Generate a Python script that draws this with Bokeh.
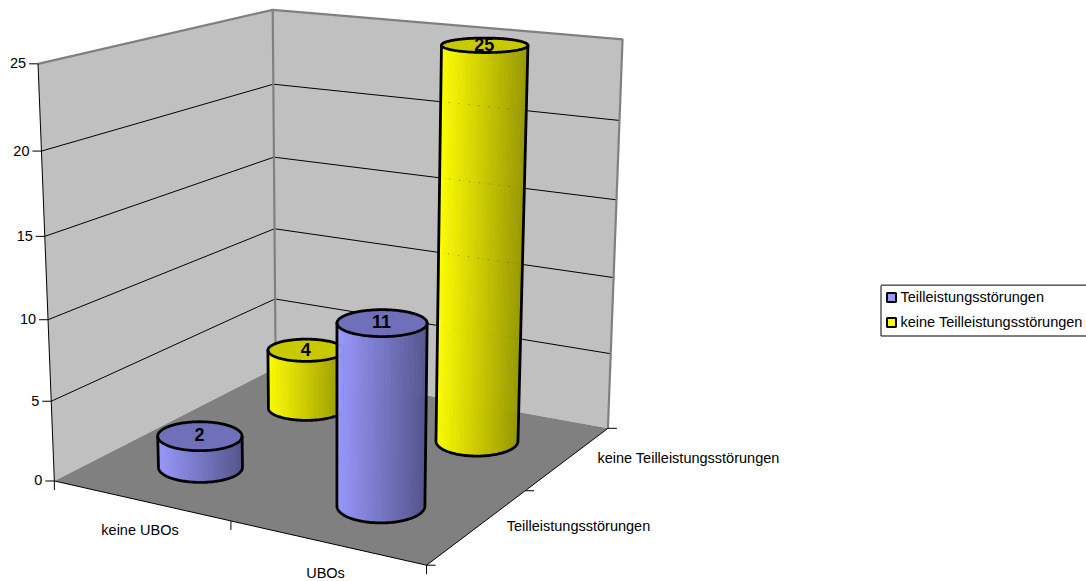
import numpy as np
from bokeh.core.properties import value
from bokeh.embed import file_html
from bokeh.models import Range1d
from bokeh.plotting import figure
from bokeh.resources import INLINE

# Chart content
categories = ["keine UBOs", "UBOs"]
series_names = ["Teilleistungsstörungen", "keine Teilleistungsstörungen"]
values_teil = [2, 11]
values_keine = [4, 25]
z_ticks = [0, 5, 10, 15, 20, 25]

FONT = "Liberation Sans"
LABEL_SIZE = "14.5px"
WALL, FLOOR, FRAME = "#c0c0c0", "#808080", "#808080"
RAMPS = {
    0: {"light": (153, 153, 255), "dark": (84, 84, 140), "top": "#7070ba"},
    1: {"light": (255, 255, 0), "dark": (150, 150, 0), "top": "#c9c900"},
}

# Camera calibration: box coordinates (category, series, value) to page pixels.
# Category and series run 0..2, value runs 0..25.
calib = [
    ((0, 0, 0), (53, 480)), ((0, 0, 5), (50, 400)), ((0, 0, 10), (48, 319)),
    ((0, 0, 15), (45, 236)), ((0, 0, 20), (41, 151)), ((0, 0, 25), (37, 64)),
    ((0, 2, 0), (275, 368)), ((0, 2, 5), (275, 299)), ((0, 2, 10), (274, 228)),
    ((0, 2, 15), (274, 156)), ((0, 2, 20), (273, 84)), ((0, 2, 25), (272, 9)),
    ((2, 2, 0), (608, 427)), ((2, 2, 5), (610, 353)), ((2, 2, 10), (612, 279)),
    ((2, 2, 15), (616, 199)), ((2, 2, 20), (618, 120)), ((2, 2, 25), (623, 38)),
    ((2, 0, 0), (427, 565)),
]
rows, rhs = [], []
for (a, b, c), (sx, sy) in calib:
    rows.append([a, b, c, 1, 0, 0, 0, 0, -sx * a, -sx * b, -sx * c])
    rows.append([0, 0, 0, 0, a, b, c, 1, -sy * a, -sy * b, -sy * c])
    rhs += [sx, sy]
cam = np.linalg.lstsq(np.array(rows, float), np.array(rhs, float), rcond=None)[0]


def proj(a, b, c):
    a, b, c = np.asarray(a, float), np.asarray(b, float), np.asarray(c, float)
    w = cam[8] * a + cam[9] * b + cam[10] * c + 1
    return (cam[0] * a + cam[1] * b + cam[2] * c + cam[3]) / w, (cam[4] * a + cam[5] * b + cam[6] * c + cam[7]) / w


def poly3(*pts):
    xs, ys = zip(*[proj(*q) for q in pts])
    return [float(v) for v in xs], [float(v) for v in ys]


def label(x, y, text, align="center", bold=False, size=LABEL_SIZE):
    p.text([float(x)], [float(y)], text=[text], text_align=align, text_baseline="middle",
           text_font=value(FONT), text_font_size=size, text_color="black",
           text_font_style="bold" if bold else "normal")


p = figure(width=1086, height=581, output_backend="svg", toolbar_location=None,
           x_range=Range1d(0, 1086), y_range=Range1d(581, 0), min_border=0,
           x_axis_type=None, y_axis_type=None, outline_line_color=None,
           background_fill_color="white", border_fill_color="white")
p.grid.visible = False

# Walls and floor
for corners, colour in [
    (((0, 0, 0), (0, 2, 0), (0, 2, 25), (0, 0, 25)), WALL),
    (((0, 2, 0), (2, 2, 0), (2, 2, 25), (0, 2, 25)), WALL),
    (((0, 0, 0), (2, 0, 0), (2, 2, 0), (0, 2, 0)), FLOOR),
]:
    xs, ys = poly3(*corners)
    p.patch(xs, ys, fill_color=colour, line_color=None)

# Gridlines on both walls
for z in z_ticks[1:-1]:
    xs, ys = poly3((0, 0, z), (0, 2, z), (2, 2, z))
    p.line(xs, ys, line_color="black", line_width=1)

# Wall frame
for pts in [
    ((0, 0, 25), (0, 2, 25), (2, 2, 25), (2, 2, 0)),
    ((0, 2, 0), (0, 2, 25)),
]:
    xs, ys = poly3(*pts)
    p.line(xs, ys, line_color=FRAME, line_width=2.2)

# Axis edges
xs, ys = poly3((0, 0, 25), (0, 0, 0), (2, 0, 0), (2, 2, 0))
p.line(xs, ys, line_color="black", line_width=1)

# Value axis ticks and labels
for z in z_ticks:
    sx, sy = proj(0, 0, z)
    p.line([float(sx) - 9, float(sx)], [float(sy), float(sy)], line_color="black", line_width=1)
    label(sx - 12, sy - 0.5, str(z), align="right")

# Category and series ticks on the floor edges
for a in range(3):
    sx, sy = proj(a, 0, 0)
    p.line([float(sx), float(sx)], [float(sy), float(sy) + 9], line_color="black", line_width=1)
for b in range(3):
    sx, sy = proj(2, b, 0)
    p.line([float(sx), float(sx) + 9], [float(sy), float(sy)], line_color="black", line_width=1)

for a, name in enumerate(categories):
    label([139.5, 325][a], [529.5, 572.5][a], name)
for b, name in enumerate(series_names):
    label([578, 688][b], [525.5, 457.5][b], name)

# Cylinders, painted back to front
N = 90


def cylinder(a, b, val, s_idx, rx, ry):
    ramp = RAMPS[s_idx]
    # floor vectors that appear as one pixel right and one pixel down at the base
    eps = 0.01
    x0, y0 = proj(a, b, 0)
    xa, ya = proj(a + eps, b, 0)
    xb_, yb_ = proj(a, b + eps, 0)
    jac = np.array([[xa - x0, xb_ - x0], [ya - y0, yb_ - y0]], float) / eps
    inv = np.linalg.inv(jac)
    th = np.linspace(0, 2 * np.pi, 2 * N + 1)
    ua = a + rx * np.cos(th) * inv[0, 0] + ry * np.sin(th) * inv[0, 1]
    ub = b + rx * np.cos(th) * inv[1, 0] + ry * np.sin(th) * inv[1, 1]
    xb, yb = proj(ua, ub, 0 * th)
    xt, yt = proj(ua, ub, 0 * th + val)
    # th 0..pi is the near half, running right to left
    fxs, fys, cols = [], [], []
    for i in range(0, N, 2):
        j = min(i + 2, N)
        fxs.append([float(v) for v in (xb[i], xb[j], xt[j], xt[i])])
        fys.append([float(v) for v in (yb[i], yb[j], yt[j], yt[i])])
        t = ((xb[i] + xb[j]) / 2 - xb[N]) / (xb[0] - xb[N])
        c = [int(round(l + (d - l) * t)) for l, d in zip(ramp["light"], ramp["dark"])]
        cols.append("#%02x%02x%02x" % tuple(c))
    p.patches(fxs, fys, fill_color=cols, line_color=cols, line_width=0.6)
    # top disc
    p.patch([float(v) for v in xt], [float(v) for v in yt], fill_color=ramp["top"],
            line_color="black", line_width=2.8)
    # side edges and near rim of the base
    ox = [float(xt[0])] + [float(v) for v in xb[:N + 1]] + [float(xt[N])]
    oy = [float(yt[0])] + [float(v) for v in yb[:N + 1]] + [float(yt[N])]
    p.line(ox, oy, line_color="black", line_width=2.8, line_join="round")
    return xb[N], xb[0]


def value_label(a, b, val):
    sx, sy = proj(a, b, val)
    label(sx - 0.5, sy - 1, str(val), bold=True, size="18px")


cylinder(0.5, 1.5, values_keine[0], 1, 38, 12)
value_label(0.5, 1.5, values_keine[0])
left25, right25 = cylinder(1.5, 1.5, values_keine[1], 1, 41, 15)
# Wall gridlines faintly showing through the tall cylinder
wall_a = np.linspace(0, 2, 201)
for z in z_ticks[2:-1]:
    wx, wy = proj(wall_a, 0 * wall_a + 2, 0 * wall_a + z)
    inside = (wx > left25 + 2) & (wx < right25 - 2)
    p.line([float(v) for v in wx[inside]], [float(v) for v in wy[inside]],
           line_color="black", line_width=1, line_dash="1 9", line_alpha=0.4)
value_label(1.5, 1.5, values_keine[1])
cylinder(0.5, 0.5, values_teil[0], 0, 42, 15)
value_label(0.5, 0.5, values_teil[0])
cylinder(1.5, 0.5, values_teil[1], 0, 44, 17)
value_label(1.5, 0.5, values_teil[1])

# Legend
p.quad(left=[880.5], right=[1090], top=[285], bottom=[335.5], fill_color="white", line_color="black", line_width=1)
p.line([880.5, 1086], [284.5, 284.5], line_color=FRAME, line_width=1.5)
for i, name in enumerate(series_names):
    y = 297 + i * 25
    p.quad(left=[886.5], right=[895.5], top=[y - 4.5], bottom=[y + 4.5],
           fill_color=["#9999ff", "#ffff00"][i], line_color="black", line_width=2)
    label(900, y - 0.5, name, align="left")

open("out.html", "w").write(file_html(p, INLINE))
